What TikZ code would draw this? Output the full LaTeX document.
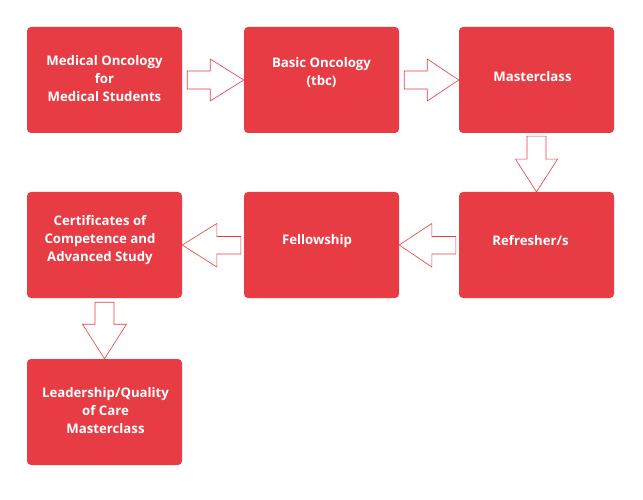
\documentclass[tikz,border=0pt]{standalone}
\usepackage{fontspec}
\setmainfont{Open Sans}
\usetikzlibrary{calc}
\definecolor{boxred}{HTML}{E83C45}
\tikzset{
  stagebox/.style={fill=boxred, draw=none, rounded corners=4pt, minimum width=155pt, minimum height=106pt, inner sep=0pt},
  stagetext/.style={text=white, font=\bfseries\fontsize{13.2}{18}\selectfont, align=center},
  fatarrow/.style={draw=boxred, fill=white, line width=0.6pt, line join=miter}
}
\begin{document}
\begin{tikzpicture}[x=1pt,y=-1pt]
\useasboundingbox (0,0) rectangle (643,500);
% boxes
\node[stagebox] (b1) at (104.5,80) {};
\node[stagebox] (b2) at (321.5,80) {};
\node[stagebox] (b3) at (536.5,80) {};
\node[stagebox] (b4) at (536.5,245) {};
\node[stagebox] (b5) at (321.5,245) {};
\node[stagebox] (b6) at (104.5,245) {};
\node[stagebox] (b7) at (104.5,412) {};
% texts
\node[stagetext] (t1) at (104.5,79) {Medical Oncology\\for\\Medical Students};
\node[stagetext] (t2) at (321.5,72.5) {Basic Oncology\\(tbc)};
\node[stagetext] (t3) at (532.5,77) {Masterclass};
\node[stagetext] (t4) at (530.5,241) {Refresher/s};
\node[stagetext] (t5) at (317,241) {Fellowship};
\node[stagetext] (t6) at (100,240) {Certificates of\\Competence and\\Advanced Study};
\node[stagetext] (t7) at (105.5,411) {Leadership/Quality\\of Care\\Masterclass};
% arrows right
\draw[fatarrow] ($(b1.east)+(5,-9)$) -- ++(23,0) -- ++(0,-12) -- (b2.west) -- ($(b1.east)+(28,21)$) -- ++(0,-12) -- ++(-23,0) -- cycle;
\draw[fatarrow] ($(b2.east)+(5,-9)$) -- ++(23,0) -- ++(0,-12) -- (b3.west) -- ($(b2.east)+(28,21)$) -- ++(0,-12) -- ++(-23,0) -- cycle;
% arrow down
\draw[fatarrow] ($(b3.south)+(-9.5,3)$) -- ++(0,23) -- ++(-11.5,0) -- (b4.north) -- ($(b3.south)+(21,26)$) -- ++(-11.5,0) -- ++(0,-23) -- cycle;
% arrows left
\draw[fatarrow] ($(b4.west)+(-3,-8.5)$) -- ++(-24,0) -- ++(0,-13) -- (b5.east) -- ($(b4.west)+(-27,22)$) -- ++(0,-13) -- ++(24,0) -- cycle;
\draw[fatarrow] ($(b5.west)+(-3,-8.5)$) -- ++(-24,0) -- ++(0,-13) -- (b6.east) -- ($(b5.west)+(-27,22)$) -- ++(0,-13) -- ++(24,0) -- cycle;
% arrow down
\draw[fatarrow] ($(b6.south)+(-9.5,4)$) -- ++(0,22) -- ++(-12.5,0) -- (b7.north) -- ($(b6.south)+(22,26)$) -- ++(-12.5,0) -- ++(0,-22) -- cycle;
\end{tikzpicture}
\end{document}
